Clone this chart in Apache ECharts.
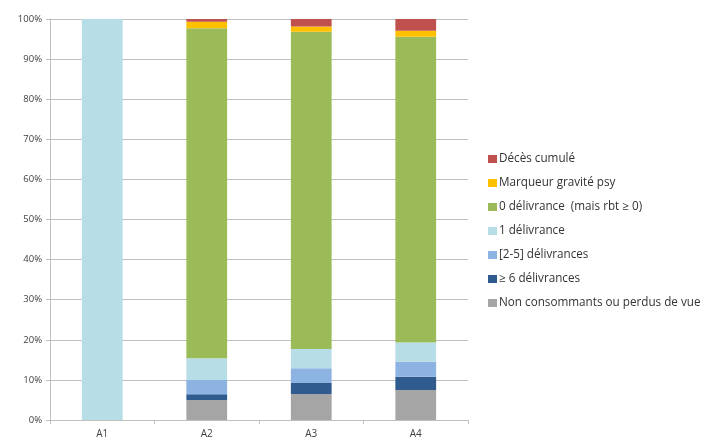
<!DOCTYPE html>
<html><head><meta charset="utf-8">
<script src="https://cdn.jsdelivr.net/npm/echarts@6/dist/echarts.min.js"></script>
<style>html,body{margin:0;padding:0;background:#fff}#c{width:704px;height:441px}</style>
</head><body><div id="c"></div>
<script>
const categories = ['A1','A2','A3','A4'];
const yTicks = ['0%','10%','20%','30%','40%','50%','60%','70%','80%','90%','100%'];
const nonConsommants = [0, 5.0, 6.5, 7.5];
const sixPlus = [0, 1.4, 2.7, 3.3];
const deuxCinq = [0, 3.6, 3.7, 3.7];
const uneDelivrance = [100, 5.4, 4.8, 4.8];
const zeroDelivrance = [0, 82.3, 79.1, 76.3];
const marqueur = [0, 1.6, 1.3, 1.5];
const deces = [0, 0.7, 1.9, 2.9];

const seriesDefs = [
  ['Non consommants ou perdus de vue', nonConsommants, '#A5A5A5'],
  ['≥ 6 délivrances', sixPlus, '#2F5B8E'],
  ['[2-5] délivrances', deuxCinq, '#8DB3E2'],
  ['1 délivrance', uneDelivrance, '#B7DDE6'],
  ['0 délivrance  (mais rbt ≥ 0)', zeroDelivrance, '#9BBB59'],
  ['Marqueur gravité psy', marqueur, '#FFC000'],
  ['Décès cumulé', deces, '#C0504D']
];
const font = "'Open Sans', 'Liberation Sans', sans-serif";
const chart = echarts.init(document.getElementById('c'), null, {renderer:'canvas'});
chart.setOption({
  animation:false,
  backgroundColor:'#fff',
  grid:{left:50, right:236, top:19, bottom:21, containLabel:false},
  legend:{
    orient:'vertical', left:483, top:146,
    itemWidth:9, itemHeight:8, itemGap:8,
    icon:'rect',
    textStyle:{fontFamily:font, fontSize:11.7, lineHeight:16, color:'#333333', padding:[0,0,0,-3]},
    data:seriesDefs.map(s=>s[0]).reverse()
  },
  xAxis:{
    type:'category', data:categories,
    axisLine:{lineStyle:{color:'#BFBFBF', width:1}},
    axisTick:{show:true, length:4, lineStyle:{color:'#BFBFBF'}},
    axisLabel:{fontFamily:font, fontSize:10, color:'#404040', margin:9}
  },
  yAxis:{
    type:'value', min:0, max:100, interval:10,
    axisLine:{show:true, lineStyle:{color:'#BFBFBF', width:1}},
    axisTick:{show:true, length:4, lineStyle:{color:'#BFBFBF'}},
    splitLine:{lineStyle:{color:'#BFBFBF', width:1}},
    axisLabel:{fontFamily:font, fontSize:9.5, color:'#404040', margin:8,
      formatter:(v)=>yTicks[Math.round(v/10)]}
  },
  series:seriesDefs.map(s=>({
    name:s[0], type:'bar', stack:'t', data:s[1], barWidth:'39%',
    itemStyle:{color:s[2]}
  }))
});
</script></body></html>
